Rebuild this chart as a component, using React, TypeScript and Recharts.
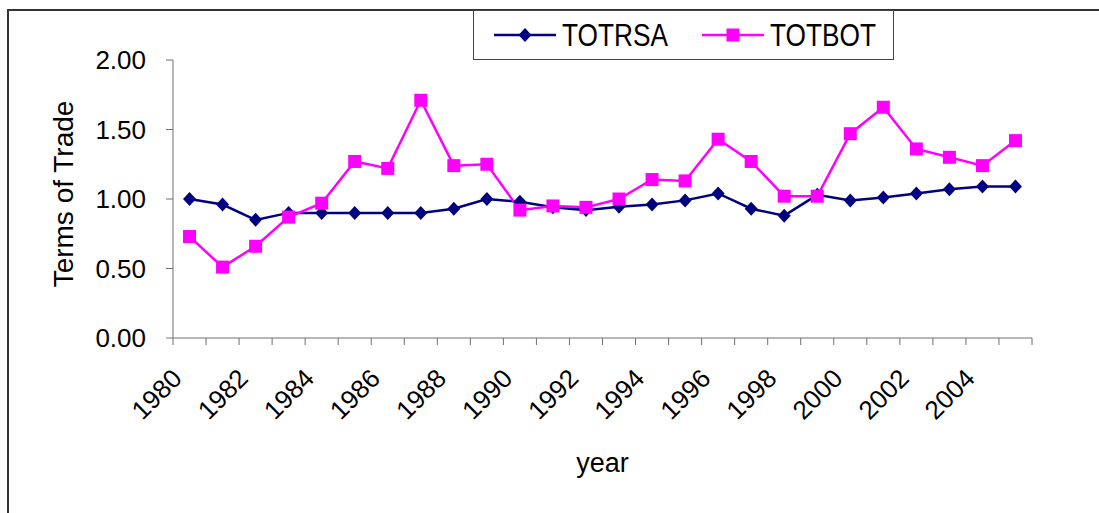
import React from "react";
import { LineChart, Line, XAxis, YAxis, Legend } from "recharts";

const years = [
  "1980", "1981", "1982", "1983", "1984", "1985", "1986", "1987", "1988",
  "1989", "1990", "1991", "1992", "1993", "1994", "1995", "1996", "1997",
  "1998", "1999", "2000", "2001", "2002", "2003", "2004", "2005",
];
const totrsa = [
  1.0, 0.96, 0.85, 0.9, 0.9, 0.9, 0.9, 0.9, 0.93, 1.0, 0.98, 0.94, 0.92,
  0.945, 0.96, 0.99, 1.04, 0.93, 0.88, 1.03, 0.99, 1.01, 1.04, 1.07, 1.09, 1.09,
];
const totbot = [
  0.73, 0.51, 0.66, 0.87, 0.97, 1.27, 1.22, 1.71, 1.24, 1.25, 0.92, 0.95, 0.94,
  1.0, 1.14, 1.13, 1.43, 1.27, 1.02, 1.02, 1.47, 1.66, 1.36, 1.3, 1.24, 1.42,
];
const yTicks = [0, 0.5, 1, 1.5, 2];

const data = years.map((year, i) => ({
  year,
  TOTRSA: totrsa[i],
  TOTBOT: totbot[i],
}));

const W = 1099;
const H = 513;
const MARGIN = { top: 60, right: 67, bottom: 0, left: 0 };
const X_AXIS_H = 175;
const Y_AXIS_W = 173;
const PLOT_W = W - MARGIN.left - MARGIN.right - Y_AXIS_W;
const PLOT_BOTTOM = H - MARGIN.bottom - X_AXIS_H;
const BAND = PLOT_W / years.length;

const FONT = '"Liberation Sans", Arial, sans-serif';
const AXIS = "#707070";
const NAVY = "#000080";
const MAGENTA = "#FF00FF";

const Diamond = (props: any) => {
  const { cx, cy } = props;
  if (cx == null || cy == null) return null;
  return (
    <polygon
      points={`${cx},${cy - 7} ${cx + 6.5},${cy} ${cx},${cy + 7} ${cx - 6.5},${cy}`}
      fill={NAVY}
    />
  );
};

const Square = (props: any) => {
  const { cx, cy } = props;
  if (cx == null || cy == null) return null;
  return <rect x={cx - 6.5} y={cy - 6.5} width={13} height={13} fill={MAGENTA} />;
};

// ticks sit on category boundaries, labels only on even years
const YearTick = (props: any) => {
  const { x, payload, index } = props;
  const label = String(payload.value);
  const lx = x - 6;
  const ly = PLOT_BOTTOM + 42;
  return (
    <g>
      <line x1={x - BAND / 2} x2={x - BAND / 2} y1={PLOT_BOTTOM} y2={PLOT_BOTTOM + 7} stroke={AXIS} />
      {index === years.length - 1 && (
        <line x1={x + BAND / 2} x2={x + BAND / 2} y1={PLOT_BOTTOM} y2={PLOT_BOTTOM + 7} stroke={AXIS} />
      )}
      {Number(label) % 2 === 0 && (
        <text
          x={lx}
          y={ly}
          transform={`rotate(-45 ${lx} ${ly})`}
          textAnchor="end"
          fontSize={26}
          fontFamily={FONT}
          fill="#000"
        >
          {label}
        </text>
      )}
    </g>
  );
};

const LegendIcon = ({ color, shape }: { color: string; shape: string }) => (
  <svg width={62} height={20} style={{ display: "block" }}>
    <line x1={0} x2={62} y1={10} y2={10} stroke={color} strokeWidth={2.5} />
    {shape === "diamond" ? (
      <polygon points="31,3 37.5,10 31,17 24.5,10" fill={color} />
    ) : (
      <rect x={24.5} y={3.5} width={13} height={13} fill={color} />
    )}
  </svg>
);

const renderLegend = () => {
  const items = [
    { name: "TOTRSA", color: NAVY, shape: "diamond", gap: 0 },
    { name: "TOTBOT", color: MAGENTA, shape: "square", gap: 36 },
  ];
  return (
    <div
      style={{
        boxSizing: "border-box",
        width: 421,
        height: 50,
        border: "1px solid #444",
        background: "#fff",
        display: "flex",
        alignItems: "center",
        paddingLeft: 20,
      }}
    >
      {items.map((it) => (
        <div key={it.name} style={{ display: "flex", alignItems: "center", marginLeft: it.gap }}>
          <LegendIcon color={it.color} shape={it.shape} />
          <span
            style={{
              display: "inline-block",
              width: 104,
              marginLeft: 6,
              fontFamily: FONT,
              fontSize: 32,
              lineHeight: "32px",
              color: "#000",
              transform: "scaleX(0.82)",
              transformOrigin: "left center",
              whiteSpace: "nowrap",
            }}
          >
            {it.name}
          </span>
        </div>
      ))}
    </div>
  );
};

export default function App() {
  return (
    <div style={{ position: "fixed", left: 0, top: 0, width: W, height: H, overflow: "hidden", background: "#fff" }}>
      <div
        style={{
          position: "absolute",
          left: 7,
          top: 9,
          width: W + 20,
          height: H + 20,
          borderLeft: "2px solid #333",
          borderTop: "2px solid #333",
        }}
      />
      <div style={{ position: "absolute", left: 0, top: 0 }}>
        <LineChart width={W} height={H} data={data} margin={MARGIN}>
          <XAxis
            dataKey="year"
            scale="band"
            interval={0}
            tick={<YearTick />}
            tickLine={false}
            axisLine={{ stroke: AXIS }}
            height={X_AXIS_H}
            label={(p: any) => {
              const vb = p.viewBox;
              return (
                <text
                  x={vb.x + vb.width / 2}
                  y={vb.y + 134}
                  textAnchor="middle"
                  fontSize={27}
                  fontFamily={FONT}
                  fill="#000"
                >
                  year
                </text>
              );
            }}
          />
          <YAxis
            width={Y_AXIS_W}
            domain={[0, 2]}
            ticks={yTicks}
            interval={0}
            tickFormatter={(v: number) => v.toFixed(2)}
            tick={{ fontSize: 26, fontFamily: FONT, fill: "#000" }}
            tickSize={7}
            tickMargin={20}
            tickLine={{ stroke: AXIS }}
            axisLine={{ stroke: AXIS }}
            label={(p: any) => {
              const vb = p.viewBox;
              const cx = 63;
              const cy = vb.y + vb.height / 2 - 5;
              return (
                <text
                  x={cx}
                  y={cy}
                  transform={`rotate(-90 ${cx} ${cy})`}
                  textAnchor="middle"
                  dominantBaseline="central"
                  fontSize={28}
                  fontFamily={FONT}
                  fill="#000"
                >
                  Terms of Trade
                </text>
              );
            }}
          />
          <Legend
            layout="vertical"
            align="center"
            verticalAlign="middle"
            content={renderLegend}
            wrapperStyle={{ left: 473, top: 10, width: 421, height: 50 }}
          />
          <Line
            type="linear"
            dataKey="TOTRSA"
            stroke={NAVY}
            strokeWidth={2.5}
            dot={<Diamond />}
            activeDot={false}
            isAnimationActive={false}
          />
          <Line
            type="linear"
            dataKey="TOTBOT"
            stroke={MAGENTA}
            strokeWidth={2.5}
            dot={<Square />}
            activeDot={false}
            isAnimationActive={false}
          />
        </LineChart>
      </div>
    </div>
  );
}
